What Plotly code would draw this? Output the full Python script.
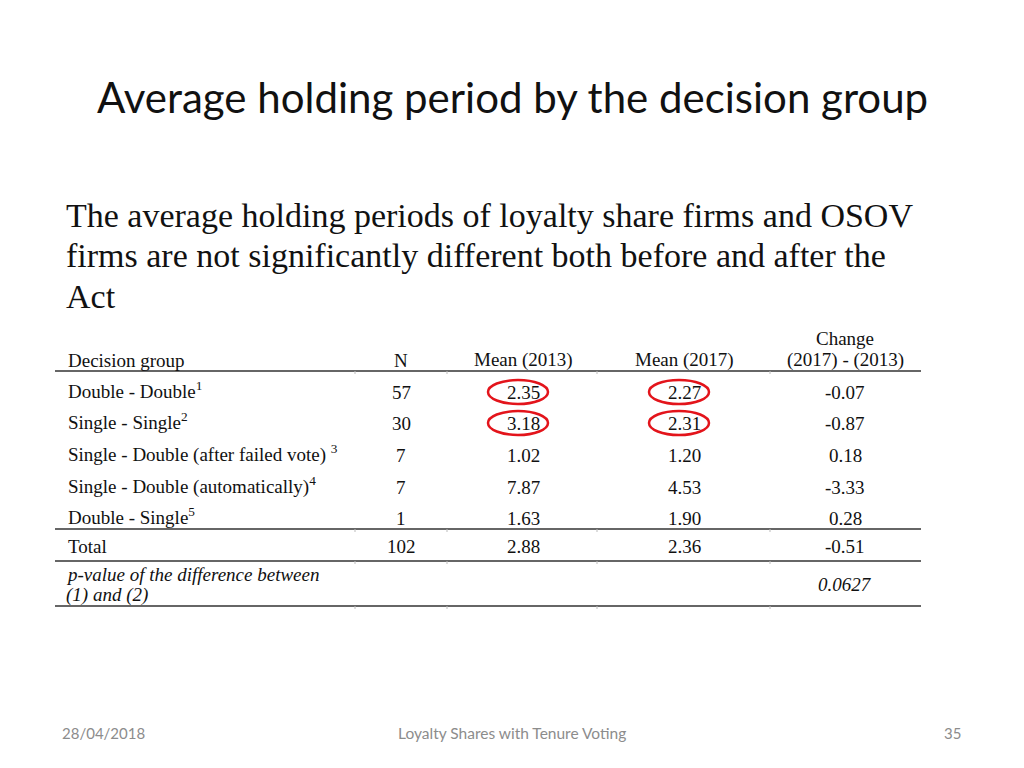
import plotly.graph_objects as go

# slide text
title = "Average holding period by the decision group"
body_lines = [
    "The average holding periods of loyalty share firms and OSOV",
    "firms are not significantly different both before and after the",
    "Act",
]
footer_date = "28/04/2018"
footer_title = "Loyalty Shares with Tenure Voting"
footer_page = "35"

# table data
groups = [
    "Double - Double<sup>1</sup>",
    "Single - Single<sup>2</sup>",
    "Single - Double (after failed vote) <sup>3</sup>",
    "Single - Double (automatically)<sup>4</sup>",
    "Double - Single<sup>5</sup>",
]
n_firms = [57, 30, 7, 7, 1]
mean_2013 = [2.35, 3.18, 1.02, 7.87, 1.63]
mean_2017 = [2.27, 2.31, 1.20, 4.53, 1.90]
change = [-0.07, -0.87, 0.18, -3.33, 0.28]
total_n = 102
total_2013 = 2.88
total_2017 = 2.36
total_change = -0.51
p_value = 0.0627
pval_label = ["p-value of the difference between", "(1) and (2)"]
# cells circled in red: (row, column)
circled = [(0, "m13"), (0, "m17"), (1, "m13"), (1, "m17")]

# layout constants (pixels of the page; the page body has an 8px margin)
W, H = 1024, 768
OFF = 8
col_x = {"n": 401, "m13": 523, "m17": 684, "chg": 845}
group_x = 66
row_y = [392, 423, 455, 487, 518]
sup_shift = -2  # superscripts make the label box taller, pull it back up
header_y = 360
total_y = 546
pval_y = [574, 595]
rules = [371, 529, 561, 606]
table_left, table_right = 55, 921
col_ticks = [355, 447, 597, 770]

serif = "Liberation Serif, Times New Roman, serif"
sans = "Lato, Carlito, Calibri, sans-serif"
tsize = 19

fig = go.Figure()
ann = []


def txt(x, y, s, size=tsize, anchor="center", family=serif, color="#111"):
    ann.append(dict(x=x, y=y, xref="x", yref="y", text=s, showarrow=False,
                    xanchor=anchor, yanchor="middle",
                    font=dict(family=family, size=size, color=color)))


# title and body
txt(512, 97, title, size=42, family=sans, color="#111")
for i, line in enumerate(body_lines):
    txt(64, 215 + 40.5 * i, line, size=34, anchor="left", color="#111")

# header
txt(group_x, header_y, "Decision group", anchor="left")
txt(col_x["n"], header_y, "N")
txt(col_x["m13"], header_y, "Mean (2013)")
txt(col_x["m17"], header_y, "Mean (2017)")
txt(col_x["chg"], 338, "Change")
txt(col_x["chg"], header_y, "(2017) - (2013)")

# body rows
for i, g in enumerate(groups):
    y = row_y[i]
    txt(group_x, y + sup_shift, g, anchor="left")
    txt(col_x["n"], y, str(n_firms[i]))
    txt(col_x["m13"], y, f"{mean_2013[i]:.2f}")
    txt(col_x["m17"], y, f"{mean_2017[i]:.2f}")
    txt(col_x["chg"], y, f"{change[i]:.2f}")

# total row
txt(group_x, total_y, "Total", anchor="left")
txt(col_x["n"], total_y, str(total_n))
txt(col_x["m13"], total_y, f"{total_2013:.2f}")
txt(col_x["m17"], total_y, f"{total_2017:.2f}")
txt(col_x["chg"], total_y, f"{total_change:.2f}")

# p-value row
for line, y in zip(pval_label, pval_y):
    txt(group_x - 2, y, f"<i>{line}</i>", anchor="left")
txt(col_x["chg"], sum(pval_y) / 2, f"<i>{p_value:.4f}</i>")

# footer
txt(60, 733, footer_date, size=15, anchor="left", family=sans, color="#8c8c8c")
txt(512, 733, footer_title, size=15.5, family=sans, color="#8c8c8c")
txt(963, 733, footer_page, size=15, anchor="right", family=sans, color="#8c8c8c")

shapes = []
for y in rules:
    shapes.append(dict(type="line", xref="x", yref="y", x0=table_left, x1=table_right,
                       y0=y, y1=y, line=dict(color="#333", width=1.5)))
    for cx in col_ticks:
        shapes.append(dict(type="line", xref="x", yref="y", x0=cx, x1=cx,
                           y0=y, y1=y + 3, line=dict(color="#bbb", width=1)))

for r, c in circled:
    cx, cy = col_x[c] - 5, row_y[r]
    shapes.append(dict(type="circle", xref="x", yref="y",
                       x0=cx - 30, x1=cx + 30, y0=cy - 12, y1=cy + 12,
                       line=dict(color="#e3141b", width=2.5)))

fig.update_layout(
    width=W - OFF, height=H - OFF,
    margin=dict(l=0, r=0, t=0, b=0),
    paper_bgcolor="white", plot_bgcolor="white",
    xaxis=dict(range=[OFF, W], visible=False, fixedrange=True),
    yaxis=dict(range=[H, OFF], visible=False, fixedrange=True),
    annotations=ann, shapes=shapes, showlegend=False,
)

fig.write_html("out.html")
